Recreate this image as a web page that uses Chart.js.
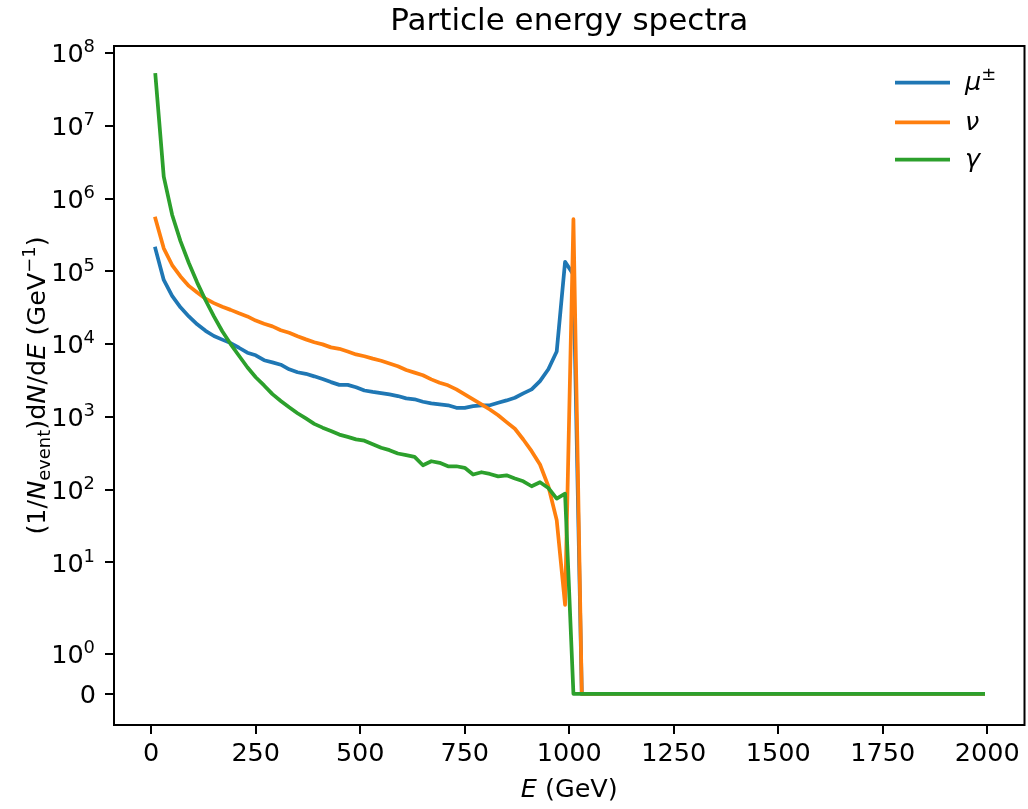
<!DOCTYPE html>
<html>
<head>
<meta charset="utf-8">
<title>Particle energy spectra</title>
<script src="https://cdn.jsdelivr.net/npm/chart.js@4.4.1/dist/chart.umd.min.js"></script>
<style>
  html, body { margin: 0; padding: 0; background: #fff; }
  #wrap { width: 1028px; height: 809px; }
</style>
</head>
<body>
<div id="wrap"><canvas id="chart" width="1028" height="809"></canvas></div>
<script>
// bin centres (GeV); everything above 1030 GeV is zero, so only the last bin is kept
var energy = [10, 30, 50, 70, 90, 110, 130, 150, 170, 190, 210, 230, 250, 270, 290, 310, 330, 350,
  370, 390, 410, 430, 450, 470, 490, 510, 530, 550, 570, 590, 610, 630, 650, 670, 690, 710,
  730, 750, 770, 790, 810, 830, 850, 870, 890, 910, 930, 950, 970, 990, 1010, 1030, 1990];

var muonFlux = [2.05e5, 7.6e4, 4.6e4, 3.2e4, 2.4e4, 1.87e4, 1.52e4, 1.29e4, 1.15e4, 1.03e4, 8.9e3, 7.6e3,
  7.0e3, 6.0e3, 5.6e3, 5.2e3, 4.5e3, 4.1e3, 3.9e3, 3.6e3, 3.3e3, 3.0e3, 2.75e3, 2.75e3, 2.55e3, 2.3e3,
  2.2e3, 2.12e3, 2.03e3, 1.93e3, 1.79e3, 1.74e3, 1.61e3, 1.53e3, 1.48e3, 1.44e3, 1.33e3, 1.33e3, 1.4e3,
  1.44e3, 1.44e3, 1.56e3, 1.68e3, 1.83e3, 2.1e3, 2.38e3, 3.1e3, 4.5e3, 7.9e3, 1.35e5, 9.0e4, 0, 0];

var neutrinoFlux = [5.3e5, 2.07e5, 1.22e5, 8.5e4, 6.3e4, 5.1e4, 4.2e4, 3.65e4, 3.25e4, 2.95e4, 2.65e4, 2.4e4,
  2.1e4, 1.9e4, 1.75e4, 1.55e4, 1.43e4, 1.28e4, 1.16e4, 1.06e4, 9.9e3, 9.0e3, 8.6e3, 7.9e3, 7.2e3, 6.8e3,
  6.3e3, 5.9e3, 5.4e3, 4.95e3, 4.4e3, 4.05e3, 3.72e3, 3.27e3, 2.94e3, 2.71e3, 2.38e3, 2.03e3, 1.74e3,
  1.48e3, 1.26e3, 1.05e3, 845, 685, 488, 337, 221, 111, 38, 2.6, 5.2e5, 0, 0];

var photonFlux = [5.0e7, 2.0e6, 6.0e5, 2.6e5, 1.3e5, 7.0e4, 4.0e4, 2.4e4, 1.5e4, 1.0e4, 6.9e3, 4.8e3,
  3.5e3, 2.7e3, 2.05e3, 1.65e3, 1.35e3, 1.12e3, 950, 800, 710, 640, 570, 530, 490, 470,
  420, 375, 348, 313, 297, 282, 216, 245, 233, 209, 209, 199, 161,
  173, 164, 152, 157, 142, 130, 111, 126, 105, 75, 88, 0, 0, 0];

var yTickValues = [0, 1, 10, 100, 1e3, 1e4, 1e5, 1e6, 1e7, 1e8];
var yTickExponents = ['', '0', '1', '2', '3', '4', '5', '6', '7', '8'];

var FONT = "'DejaVu Sans', sans-serif";
var FS = 25.5;        // tick / label size
var FS_SMALL = 17.9;  // sub/superscripts

// symmetric log transform, linthresh 2, linscale 1 (same as matplotlib symlog)
var LINTHRESH = 2;
var LINSCALE_ADJ = 1 / (1 - 1 / 10);
function symT(v) {
  var a = Math.abs(v);
  var s = a <= LINTHRESH ? a / LINTHRESH * LINSCALE_ADJ : LINSCALE_ADJ + Math.log10(a / LINTHRESH);
  return v < 0 ? -s : s;
}
function symInv(s) {
  var a = Math.abs(s);
  var v = a <= LINSCALE_ADJ ? a / LINSCALE_ADJ * LINTHRESH : LINTHRESH * Math.pow(10, a - LINSCALE_ADJ);
  return s < 0 ? -v : v;
}

class SymlogScale extends Chart.Scale {
  determineDataLimits() {
    var mm = this.getMinMax(true);
    this.min = this.options.min != null ? this.options.min : mm.min;
    this.max = this.options.max != null ? this.options.max : mm.max;
  }
  buildTicks() {
    return yTickValues.map(function (v) { return { value: v }; });
  }
  configure() {
    super.configure();
    this._start = symT(this.min);
    this._range = symT(this.max) - this._start;
  }
  getLabelForValue(v) { return String(v); }
  getPixelForValue(v) {
    return this.getPixelForDecimal((symT(v) - this._start) / this._range);
  }
  getValueForPixel(p) {
    return symInv(this._start + this.getDecimalForPixel(p) * this._range);
  }
}
SymlogScale.id = 'symlog';
SymlogScale.defaults = {};
Chart.register(SymlogScale);

// draw a run of text pieces with different fonts / baseline shifts
function drawPieces(ctx, parts, x, y, align) {
  var total = 0;
  parts.forEach(function (p) { ctx.font = p.font; p.w = ctx.measureText(p.text).width; total += p.w; });
  var cx = align === 'center' ? x - total / 2 : (align === 'right' ? x - total : x);
  ctx.textAlign = 'left';
  ctx.textBaseline = 'alphabetic';
  parts.forEach(function (p) {
    ctx.font = p.font;
    ctx.fillText(p.text, cx, y + (p.dy || 0));
    cx += p.w;
  });
}

var rm = function (s) { return s + 'px ' + FONT; };
var it = function (s) { return 'italic ' + s + 'px ' + FONT; };

var decorations = {
  id: 'decorations',
  afterDraw: function (chart) {
    var ctx = chart.ctx;
    var a = chart.chartArea;
    var ys = chart.scales.y;
    var cx = (a.left + a.right) / 2;
    ctx.save();
    ctx.fillStyle = '#000';

    // frame
    ctx.strokeStyle = '#000';
    ctx.lineWidth = 2;
    ctx.strokeRect(a.left, a.top, a.right - a.left, a.bottom - a.top);

    // y tick labels (10^n)
    yTickValues.forEach(function (v, i) {
      var py = ys.getPixelForValue(v);
      if (v === 0) {
        drawPieces(ctx, [{ text: '0', font: rm(FS) }], 96, py + 9.2, 'right');
      } else {
        drawPieces(ctx, [
          { text: '10', font: rm(FS) },
          { text: yTickExponents[i], font: rm(FS_SMALL), dy: -10 }
        ], 95, py + 9.2, 'right');
      }
    });

    // title
    drawPieces(ctx, [{ text: 'Particle energy spectra', font: rm(31) }], cx, 30, 'center');

    // x label
    drawPieces(ctx, [
      { text: 'E', font: it(FS) },
      { text: ' (GeV)', font: rm(FS) }
    ], cx, 797, 'center');

    // y label
    ctx.save();
    ctx.translate(45, (a.top + a.bottom) / 2);
    ctx.rotate(-Math.PI / 2);
    drawPieces(ctx, [
      { text: '(1/', font: rm(FS) },
      { text: 'N', font: it(FS) },
      { text: 'event', font: rm(FS_SMALL), dy: 5 },
      { text: ')d', font: rm(FS) },
      { text: 'N', font: it(FS) },
      { text: '/d', font: rm(FS) },
      { text: 'E', font: it(FS) },
      { text: ' (GeV', font: rm(FS) },
      { text: '\u22121', font: rm(FS_SMALL), dy: -10.5 },
      { text: ')', font: rm(FS) }
    ], 0, 0, 'center');
    ctx.restore();

    // legend
    var rows = [
      { parts: [{ text: '\u03bc', font: it(FS) }, { text: '\u00b1', font: rm(FS_SMALL), dy: -10.5 }], color: '#1f77b4', y: 82.5 },
      { parts: [{ text: '\u03bd', font: it(FS) }], color: '#ff7f0e', y: 122.3 },
      { parts: [{ text: '\u03b3', font: it(FS) }], color: '#2ca02c', y: 159.5 }
    ];
    rows.forEach(function (r) {
      ctx.strokeStyle = r.color;
      ctx.lineWidth = 3.75;
      ctx.beginPath();
      ctx.moveTo(895, r.y);
      ctx.lineTo(950, r.y);
      ctx.stroke();
      drawPieces(ctx, r.parts, 965, r.y + 7.8, 'left');
    });

    ctx.restore();
  }
};

function series(values) {
  return energy.map(function (e, i) { return { x: e, y: values[i] }; });
}

var axisGrid = { drawOnChartArea: false, color: '#000', lineWidth: 2, tickLength: 9 };

var ctx = document.getElementById('chart').getContext('2d');
window.myChart = new Chart(ctx, {
  type: 'line',
  data: {
    datasets: [
      { label: 'mu', data: series(muonFlux), borderColor: '#1f77b4', order: 3 },
      { label: 'nu', data: series(neutrinoFlux), borderColor: '#ff7f0e', order: 2 },
      { label: 'gamma', data: series(photonFlux), borderColor: '#2ca02c', order: 1 }
    ]
  },
  options: {
    responsive: false,
    animation: false,
    devicePixelRatio: 1,
    layout: { padding: { top: 46, right: 3.5, left: 0, bottom: 0 } },
    elements: {
      point: { radius: 0 },
      line: { borderWidth: 3.75, tension: 0, borderJoinStyle: 'round', borderCapStyle: 'square', fill: false }
    },
    plugins: {
      legend: { display: false },
      title: { display: false },
      tooltip: { enabled: false }
    },
    scales: {
      x: {
        type: 'linear',
        min: -89,
        max: 2089,
        afterFit: function (s) { s.height = 84; },
        ticks: {
          stepSize: 250,
          includeBounds: false,
          autoSkip: false,
          maxRotation: 0,
          color: '#000',
          padding: 5,
          font: { family: FONT, size: FS },
          callback: function (v) { return String(v); }
        },
        grid: axisGrid,
        border: { display: false }
      },
      y: {
        type: 'symlog',
        min: -0.767,
        max: 1.25e8,
        afterFit: function (s) { s.width = 114; },
        ticks: { display: false },
        grid: axisGrid,
        border: { display: false }
      }
    }
  },
  plugins: [decorations]
});
</script>
</body>
</html>
